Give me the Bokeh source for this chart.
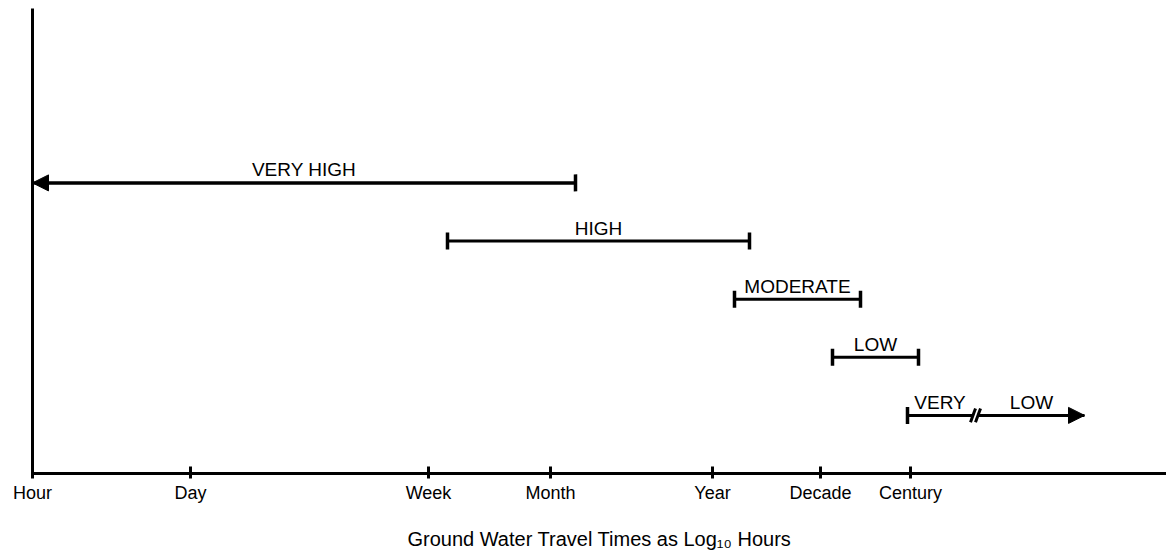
from bokeh.plotting import figure
from bokeh.models import ColumnDataSource, Arrow, NormalHead, FixedTicker, Range1d
from bokeh.embed import file_html
from bokeh.resources import INLINE

# ---- data (chart positions along a nominal log-time axis) ----
tick_labels = ["Hour", "Day", "Week", "Month", "Year", "Decade", "Century"]
tick_pos = [0.0, 1.58, 3.96, 5.18, 6.80, 7.88, 8.78]

levels = ["VERY HIGH", "HIGH", "MODERATE", "LOW", "VERY LOW"]
level_row = [5, 4, 3, 2, 1]
range_start = [0.0, 4.15, 7.02, 8.00, 8.75]
range_end = [5.43, 7.17, 8.28, 8.86, 10.52]
open_start = [True, False, False, False, False]
open_end = [False, False, False, False, True]
break_at = {"VERY LOW": 9.43}   # axis break drawn on the VERY LOW range

x_title = "Ground Water Travel Times as Log\u2081\u2080 Hours"

FONT = "Liberation Sans"
W, H = 1166, 558

p = figure(width=W, height=H, output_backend="svg", toolbar_location=None,
           x_range=Range1d(0, 11.34), y_range=Range1d(0, 8),
           min_border_left=32, min_border_right=0, min_border_top=8,
           min_border_bottom=85)
p.outline_line_color = None
p.xgrid.visible = False
p.ygrid.visible = False
p.background_fill_color = "white"
p.border_fill_color = "white"

# x axis
xa = p.xaxis[0]
xa.ticker = FixedTicker(ticks=tick_pos)
xa.major_label_overrides = {t: l for t, l in zip(tick_pos, tick_labels)}
xa.axis_line_width = 3
xa.axis_line_color = "black"
xa.major_tick_in = 7
xa.major_tick_out = 5
xa.major_tick_line_width = 3
xa.minor_tick_line_color = None
xa.major_label_text_font = FONT
xa.major_label_text_font_size = "18px"
xa.major_label_text_color = "black"
xa.major_label_standoff = 4
xa.axis_label = x_title
xa.axis_label_text_font = FONT
xa.axis_label_text_font_size = "20px"
xa.axis_label_text_font_style = "normal"
xa.axis_label_text_color = "black"
xa.axis_label_standoff = 22

# y axis: plain line, no ticks or labels
ya = p.yaxis[0]
ya.ticker = FixedTicker(ticks=[])
ya.axis_line_width = 3
ya.axis_line_color = "black"
ya.major_tick_line_color = None
ya.minor_tick_line_color = None
ya.major_label_standoff = 0

# ---- build segments ----
seg_x0, seg_x1, seg_y = [], [], []
lab_x, lab_y, lab_t = [], [], []
cap_x, cap_y = [], []
arr_xs, arr_xe, arr_y = [], [], []
sl_x0, sl_x1, sl_y0, sl_y1 = [], [], [], []
gap = 0.03
for name, r, s, e, os_, oe in zip(levels, level_row, range_start, range_end, open_start, open_end):
    if name in break_at:
        b = break_at[name]
        parts = [(s, b - gap), (b + gap, e)]
        words = name.split(" ")
        for c in (b - gap + 0.005, b + gap - 0.005):
            sl_x0.append(c - 0.025); sl_x1.append(c + 0.025)
            sl_y0.append(r - 0.12); sl_y1.append(r + 0.12)
    else:
        parts = [(s, e)]
        words = [name]
    for (a, bb), w in zip(parts, words):
        seg_x0.append(a); seg_x1.append(bb); seg_y.append(r)
        lab_x.append((a + bb) / 2); lab_y.append(r); lab_t.append(w)
    if os_:
        arr_xs.append(parts[0][1]); arr_xe.append(s); arr_y.append(r)
    else:
        cap_x.append(s); cap_y.append(r)
    if oe:
        arr_xs.append(parts[-1][0]); arr_xe.append(e); arr_y.append(r)
    else:
        cap_x.append(e); cap_y.append(r)

p.segment(x0=seg_x0, y0=seg_y, x1=seg_x1, y1=seg_y, line_width=3, line_color="black")
p.scatter(x=cap_x, y=cap_y, marker="dash", angle=1.5708, size=17,
          line_width=3.5, line_color="black")
p.segment(x0=sl_x0, y0=sl_y0, x1=sl_x1, y1=sl_y1, line_width=3, line_color="black")

arr_src = ColumnDataSource(dict(xs=arr_xs, xe=arr_xe, y=arr_y))
p.add_layout(Arrow(end=NormalHead(size=16, fill_color="black", line_color="black", line_width=1),
                   x_start="xs", y_start="y", x_end="xe", y_end="y",
                   line_width=3, line_color="black", source=arr_src))

p.text(x=lab_x, y=lab_y, text=lab_t, text_align="center", text_baseline="middle",
       y_offset=-13, text_font={"value": FONT}, text_font_size="19px", text_color="black")

open("out.html", "w").write(file_html(p, INLINE))
